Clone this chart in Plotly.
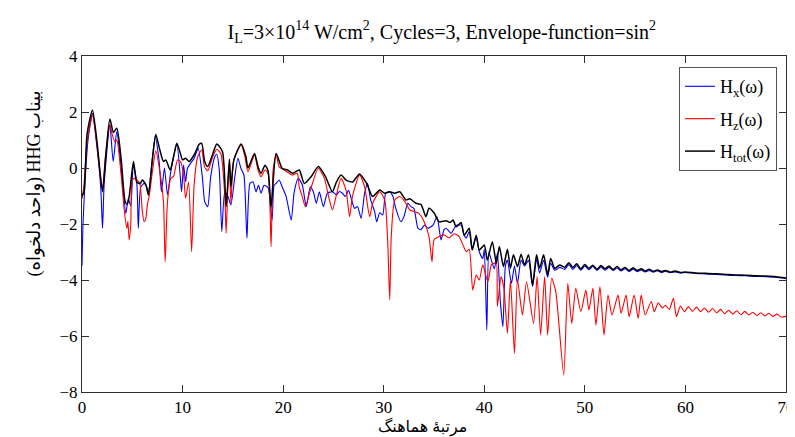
import plotly.graph_objects as go

# ---- data ----
x_ticks = [0, 10, 20, 30, 40, 50, 60, 70]
y_ticks = [-8, -6, -4, -2, 0, 2, 4]

hx_points = [
    (0, -3.5), (0.1, -2.0), (0.3, -0.5), (0.6, 1.0), (1.04, 1.95), (1.5, 0.7), (1.87, -0.73), (2.04, -2.15),
    (2.2, -0.6), (2.77, 1.54), (3.1, 0.23), (3.46, 1.3), (4.0, -0.37), (4.36, -1.62), (4.6, -1.1), (4.85, -1.35),
    (5.1, 0.11), (5.45, -0.55), (5.6, -2.15), (5.85, -0.67), (6.2, -0.55), (6.5, -0.75), (6.6, -0.96), (7.27, 1.12),
    (7.67, 0.23), (7.9, -0.85), (8.2, 0.0), (8.5, -0.96), (8.8, -0.2), (9.43, 0.85), (9.76, -0.25), (9.9, -0.85),
    (10.1, 0.11), (10.3, -0.49), (10.5, 0.0), (11.15, 0.35), (11.55, 0.7), (11.98, -0.37), (12.2, -1.2), (12.5, -1.38),
    (12.8, -0.3), (13.2, 0.4), (13.4, 0.49), (13.65, -0.07), (13.9, -2.27), (14.2, -0.85), (14.5, -1.0), (14.8, -1.32),
    (15.2, -0.3), (15.5, 0.35), (15.8, -0.01), (16.1, -0.25), (16.4, -2.51), (16.7, -0.55), (17.0, -0.49), (17.3, -0.85),
    (17.55, -0.62), (17.8, -0.9), (18.1, -0.62), (18.5, -0.7), (18.9, -1.86), (19.1, -0.62), (19.3, -0.55), (19.6, -0.43),
    (19.9, -0.67), (20.3, -1.02), (20.8, -1.86), (21.1, -0.85), (21.5, -0.37), (21.9, -0.6), (22.3, -1.38), (22.7, -0.67),
    (23.0, -0.85), (23.3, -1.26), (23.6, -0.85), (24.0, -1.38), (24.4, -0.9), (24.9, -0.85), (25.3, -0.96), (25.6, -0.84),
    (25.9, -0.9), (26.2, -1.02), (26.5, -0.8), (27.1, -1.44), (27.4, -1.38), (27.75, -1.8), (28.1, -0.9), (28.4, -0.55),
    (28.7, -1.14), (29.1, -1.56), (29.3, -1.92), (29.6, -1.6), (29.9, -1.68), (30.2, -0.9), (30.6, -0.85), (30.9, -1.0),
    (31.2, -1.44), (31.7, -1.92), (32.0, -1.75), (32.4, -1.26), (32.7, -1.38), (33.0, -1.44), (33.4, -2.15), (33.7, -2.2),
    (34.05, -2.04), (34.4, -2.15), (34.9, -2.04), (35.3, -1.74), (35.7, -2.57), (36.0, -2.2), (36.2, -2.15), (36.7, -2.33),
    (37.2, -2.05), (37.7, -2.04), (38.0, -2.4), (38.2, -2.5), (38.5, -2.27), (38.8, -2.9), (39.2, -2.45), (39.5, -2.99),
    (39.85, -3.23), (40.0, -2.9), (40.25, -5.79), (40.45, -3.0), (40.7, -3.29), (41.0, -3.6), (41.3, -3.05), (41.6, -4.8),
    (41.85, -5.67), (42.1, -3.5), (42.3, -3.29), (42.7, -4.12), (43.0, -3.5), (43.3, -4.12), (43.66, -3.29), (44.0, -3.5),
    (44.4, -3.3), (44.8, -4.24), (45.2, -3.25), (45.5, -3.75), (45.9, -3.3), (46.3, -3.9), (46.6, -3.4), (47.0, -3.65),
    (47.5, -3.55), (48.0, -3.62), (48.4, -3.45), (48.8, -3.62), (49.2, -3.48), (49.6, -3.65), (50.0, -3.5), (50.4, -3.63),
    (50.8, -3.52), (51.2, -3.66), (51.6, -3.53), (52.0, -3.65), (52.4, -3.55), (52.8, -3.66), (53.2, -3.57), (53.6, -3.68),
    (54.0, -3.6), (54.4, -3.7), (54.8, -3.61), (55.2, -3.7), (55.6, -3.64), (56.0, -3.71), (56.4, -3.66), (56.8, -3.72),
    (57.2, -3.67), (57.6, -3.73), (58.0, -3.69), (58.5, -3.74), (59.0, -3.71), (59.5, -3.75), (60.0, -3.73), (61, -3.77),
    (62, -3.78), (63, -3.8), (64, -3.82), (65, -3.84), (66, -3.85), (67, -3.87), (68, -3.88), (69, -3.9), (70, -3.95),
]

hz_points = [
    (0, -1.1), (0.2, -0.6), (0.5, 0.9), (1.04, 1.87), (1.5, 0.8), (1.94, -0.6), (2.04, -0.79), (2.3, 0.3),
    (2.77, 1.54), (3.0, 1.2), (3.26, 0.94), (3.46, 1.0), (3.86, -0.13), (4.2, -1.5), (4.46, -2.15), (4.56, -1.9),
    (4.69, -2.57), (4.85, -2.0), (5.0, -0.43), (5.25, -0.37), (5.5, -0.43), (5.75, -0.55), (6.0, -1.56), (6.18, -1.92),
    (6.35, -1.8), (6.5, -1.3), (6.7, -0.96), (7.0, -0.13), (7.34, 0.61), (7.84, -0.37), (8.1, -1.2), (8.27, -3.35),
    (8.5, -1.2), (8.83, -0.37), (9.1, -0.3), (9.5, 0.29), (9.8, 0.23), (10.1, -0.25), (10.3, -1.08), (10.6, -0.5),
    (10.9, -2.99), (11.15, -0.6), (11.5, 0.4), (11.9, 0.64), (12.18, 0.05), (12.5, -0.1), (13.0, 0.4), (13.4, 0.67),
    (13.8, 0.52), (14.2, -1.02), (14.33, -2.33), (14.5, -0.67), (14.66, 0.29), (14.8, -1.26), (15.1, 0.29), (15.82, 0.82),
    (16.2, 0.4), (16.5, -0.13), (17.15, 0.46), (17.5, -0.07), (17.8, -0.31), (18.2, -0.07), (18.5, -0.19), (18.8, -2.81),
    (19.0, -0.07), (19.3, 0.5), (19.6, 0.05), (20.1, -0.07), (20.6, -0.19), (20.9, -0.25), (21.4, -0.19), (21.6, -0.67),
    (21.9, -1.02), (22.2, -1.38), (22.7, -0.8), (23.5, -0.01), (24.1, -0.37), (24.6, -1.14), (24.9, -1.5), (25.3, -0.96),
    (25.76, -0.37), (26.26, -0.8), (26.6, -1.74), (26.9, -1.0), (27.6, -0.25), (28.1, -0.67), (28.6, -1.74), (28.9, -1.26),
    (29.6, -0.85), (30.1, -1.14), (30.4, -2.69), (30.6, -4.71), (30.75, -2.45), (31.1, -1.14), (31.6, -1.02), (32.1, -1.2),
    (32.6, -1.5), (33.1, -1.56), (33.5, -1.62), (34.0, -1.9), (34.5, -2.45), (34.8, -3.35), (35.0, -2.57), (35.5, -2.45),
    (36.0, -2.39), (36.5, -2.5), (37.0, -2.35), (37.5, -2.45), (38.0, -2.85), (38.2, -2.99), (38.5, -2.9), (38.85, -4.36),
    (39.2, -3.82), (39.5, -4.0), (39.85, -3.46), (40.35, -4.06), (40.7, -3.46), (41.0, -3.4), (41.2, -3.35), (41.3, -4.95),
    (41.67, -3.88), (41.95, -4.3), (42.3, -5.9), (42.6, -4.0), (43.0, -6.62), (43.3, -4.0), (43.8, -5.25), (44.2, -4.06),
    (44.9, -5.55), (45.25, -3.88), (45.6, -5.96), (46.0, -3.88), (46.3, -5.96), (46.7, -3.94), (47.1, -4.4), (47.9, -7.39),
    (48.3, -4.12), (48.7, -5.55), (49.1, -4.3), (49.6, -5.13), (50.1, -4.36), (50.4, -5.07), (50.8, -4.3), (51.1, -5.61),
    (51.5, -4.24), (51.9, -5.96), (52.3, -4.54), (52.7, -5.25), (53.3, -4.54), (53.6, -5.19), (54.1, -4.54), (54.4, -5.31),
    (54.9, -4.54), (55.3, -5.37), (55.6, -4.54), (56.0, -5.25), (56.6, -4.77), (56.9, -5.13), (57.3, -4.81), (57.7, -5.0),
    (58.0, -4.9), (58.4, -5.05), (58.8, -4.65), (59.1, -5.31), (59.5, -4.93), (59.9, -5.13), (60.3, -4.95), (60.7, -5.12),
    (61.1, -4.97), (61.5, -5.13), (61.9, -5.0), (62.3, -5.15), (62.7, -5.02), (63.1, -5.18), (63.5, -5.05), (63.9, -5.2),
    (64.3, -5.08), (64.7, -5.22), (65.1, -5.1), (65.5, -5.24), (65.9, -5.12), (66.3, -5.25), (66.7, -5.15), (67.1, -5.27),
    (67.5, -5.17), (67.9, -5.28), (68.3, -5.19), (68.7, -5.3), (69.1, -5.22), (69.5, -5.32), (70.0, -5.3),
]

htot_points = [
    (0, -1.0), (0.2, -0.85), (0.5, 1.2), (1.04, 2.07), (1.5, 0.9), (2.04, -0.85), (2.4, 0.6), (2.77, 1.75),
    (3.13, 1.27), (3.46, 1.42), (3.9, 0.3), (4.29, -1.2), (4.5, -1.3), (4.7, -1.0), (5.12, 0.23), (5.45, -0.51),
    (5.8, -0.55), (6.0, -0.43), (6.35, -0.6), (6.6, -0.96), (7.0, 0.3), (7.34, 1.2), (7.7, 0.7), (8.1, 0.23),
    (8.33, 0.29), (8.76, -0.07), (9.1, 0.4), (9.43, 0.88), (9.8, 0.5), (10.0, 0.29), (10.3, 0.35), (10.65, 0.23),
    (11.2, 0.5), (11.65, 0.85), (11.9, 0.88), (12.2, 0.23), (12.5, 0.05), (13.0, 0.5), (13.4, 0.86), (13.97, 0.58),
    (14.33, -1.38), (14.66, 0.31), (14.8, -0.67), (15.1, 0.29), (15.82, 0.86), (16.3, 0.4), (16.5, 0.0), (17.15, 0.52),
    (17.5, 0.05), (17.8, -0.19), (18.2, 0.1), (18.5, -0.1), (18.8, -1.38), (19.3, 0.52), (19.9, -0.01), (20.45, -0.07),
    (20.95, -0.19), (21.6, -0.07), (22.1, -0.55), (22.8, -0.3), (23.5, 0.05), (24.2, -0.3), (24.9, -0.85), (25.3, -0.5),
    (25.76, -0.25), (26.26, -0.43), (26.9, -0.5), (27.6, -0.21), (28.3, -0.55), (28.9, -1.02), (29.6, -0.79), (30.1, -0.9),
    (30.6, -0.85), (31.1, -0.9), (31.6, -0.85), (32.2, -1.14), (32.6, -1.1), (33.2, -1.26), (33.7, -1.3), (34.2, -1.74),
    (34.5, -1.44), (35.0, -1.6), (35.5, -1.92), (36.2, -1.88), (36.6, -1.95), (36.9, -1.86), (37.2, -2.1), (37.7, -1.95),
    (38.0, -2.4), (38.5, -2.15), (38.8, -2.93), (39.2, -2.4), (39.5, -2.93), (40.0, -2.75), (40.3, -3.29), (40.8, -2.63),
    (41.2, -3.4), (41.5, -2.8), (41.9, -3.52), (42.3, -2.9), (42.6, -3.58), (42.9, -3.1), (43.3, -3.52), (43.66, -3.08),
    (44.0, -3.46), (44.4, -3.1), (44.8, -4.18), (45.2, -3.1), (45.5, -3.58), (45.9, -3.1), (46.3, -3.82), (46.6, -3.23),
    (47.0, -3.58), (47.5, -3.46), (48.0, -3.55), (48.4, -3.38), (48.8, -3.55), (49.2, -3.42), (49.6, -3.6), (50.0, -3.45),
    (50.4, -3.58), (50.8, -3.47), (51.2, -3.62), (51.6, -3.48), (52.0, -3.6), (52.4, -3.5), (52.8, -3.62), (53.2, -3.52),
    (53.6, -3.64), (54.0, -3.55), (54.4, -3.66), (54.8, -3.56), (55.2, -3.66), (55.6, -3.6), (56.0, -3.68), (56.4, -3.62),
    (56.8, -3.69), (57.2, -3.64), (57.6, -3.7), (58.0, -3.66), (58.5, -3.72), (59.0, -3.68), (59.5, -3.73), (60.0, -3.71),
    (61, -3.75), (62, -3.76), (63, -3.78), (64, -3.8), (65, -3.82), (66, -3.83), (67, -3.85), (68, -3.86), (69, -3.88),
    (70, -3.93),
]

series = [
    ("H<sub>x</sub>(ω)", hx_points, "#0000ff", 1.1),
    ("H<sub>z</sub>(ω)", hz_points, "#ff0000", 1.1),
    ("H<sub>tot</sub>(ω)", htot_points, "#000000", 1.5),
]

SERIF = "Liberation Serif, Times New Roman, DejaVu Serif, serif"
PERSIAN = "Liberation Serif, DejaVu Sans, serif"

fig = go.Figure()
for i, (name, pts, color, w) in enumerate(series):
    fig.add_trace(go.Scatter(
        x=[p[0] for p in pts], y=[p[1] for p in pts], mode="lines", name=name,
        legendgroup=f"g{i}", line=dict(color=color, width=w, shape="spline", smoothing=0.6),
    ))

axis_common = dict(
    showline=True, linecolor="#303030", linewidth=1, mirror="ticks",
    ticks="inside", ticklen=7, tickcolor="#303030", tickwidth=1,
    showgrid=False, zeroline=False, automargin=False,
    tickfont=dict(family=SERIF, size=17, color="#000000"),
)
fig.update_xaxes(range=[0, 70], tickvals=x_ticks, **axis_common)
fig.update_yaxes(range=[-8, 4], tickvals=y_ticks, **axis_common)

# the page body has an 8px margin; the figure is offset by it
fig.update_layout(
    width=800, height=429,
    margin=dict(l=74, r=22, t=48, b=45, autoexpand=False),
    paper_bgcolor="white", plot_bgcolor="white",
    title=dict(
        text="I<sub>L</sub>=3×10<sup>14</sup> W/cm<sup>2</sup>, Cycles=3, Envelope-function=sin<sup>2</sup>",
        x=0.511, xref="paper", y=0.945, yref="container", yanchor="middle",
        font=dict(family=SERIF, size=20, color="#000000"),
    ),
    legend=dict(
        x=0.848, y=0.967, xanchor="left", yanchor="top",
        bgcolor="white", bordercolor="#555555", borderwidth=1,
        font=dict(family=SERIF, size=18, color="#000000"),
        itemwidth=30, tracegroupgap=6,
    ),
    showlegend=True,
    annotations=[
        dict(text="\u202bبیناب HHG (واحد دلخواه)\u202c", textangle=-90, xref="paper", yref="paper",
             x=-0.067, y=0.62, showarrow=False, xanchor="center", yanchor="middle",
             font=dict(family=PERSIAN, size=18, color="#000000")),
        dict(text="مرتبۀ هماهنگ", xref="paper", yref="paper",
             x=(422 - 82) / 704, y=-0.105, showarrow=False, xanchor="center", yanchor="middle",
             font=dict(family=PERSIAN, size=16, color="#000000")),
    ],
)

fig.write_html("out.html")
